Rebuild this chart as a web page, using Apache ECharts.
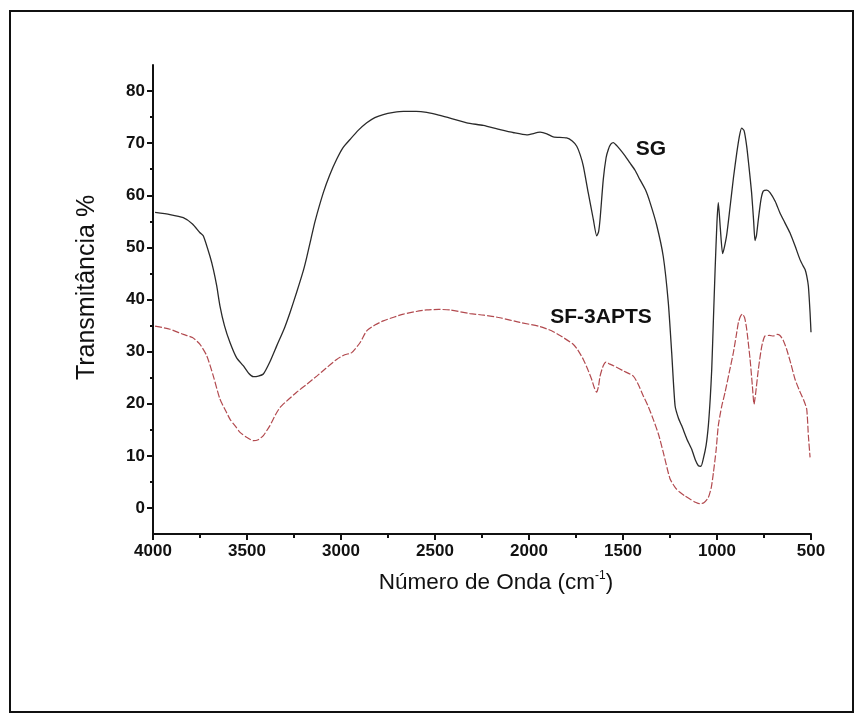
<!DOCTYPE html>
<html>
<head>
<meta charset="utf-8">
<script src="https://cdn.jsdelivr.net/npm/echarts@6/dist/echarts.min.js"></script>
<style>
  html, body { margin: 0; padding: 0; background: #fff; }
  #chart { width: 866px; height: 726px; }
</style>
</head>
<body>
<div id="chart"></div>
<script>
// wavenumber (cm-1) / transmittance (%)
const sgWave = [3989, 3910, 3839, 3790, 3750, 3732, 3697, 3679, 3661, 3644, 3620, 3590, 3555, 3520, 3490, 3466, 3440, 3413, 3380, 3342, 3300, 3271, 3235, 3200, 3183, 3160, 3138, 3094, 3060, 3023, 2990, 2952, 2910, 2863, 2820, 2775, 2720, 2668, 2600, 2544, 2480, 2420, 2331, 2243, 2154, 2080, 2012, 1941, 1905, 1871, 1800, 1770, 1746, 1728, 1711, 1685, 1658, 1640, 1630, 1622, 1605, 1590, 1578, 1565, 1551, 1535, 1516, 1490, 1463, 1436, 1410, 1380, 1356, 1321, 1286, 1259, 1241, 1223, 1205, 1188, 1160, 1135, 1115, 1099, 1085, 1073, 1058, 1046, 1036, 1028, 1019, 1010, 1000, 993, 982, 970, 950, 931, 912, 895, 880, 869, 856, 842, 830, 816, 805, 798, 790, 780, 766, 754, 735, 718, 690, 665, 640, 612, 585, 559, 540, 532, 523, 514, 505, 500];
const sgTrans = [56.7, 56.3, 55.7, 54.5, 52.8, 52.2, 48.3, 45.8, 42.6, 38.8, 35.0, 31.7, 28.8, 27.3, 25.8, 25.2, 25.3, 25.7, 27.9, 31.1, 34.6, 37.5, 41.5, 45.6, 48.0, 51.6, 55.0, 60.5, 63.9, 66.9, 69.1, 70.7, 72.4, 73.9, 74.9, 75.5, 75.9, 76.1, 76.1, 75.9, 75.4, 74.8, 73.9, 73.4, 72.6, 72.0, 71.6, 72.1, 71.8, 71.2, 71.0, 70.4, 69.4, 67.8, 65.6, 60.5, 55.4, 52.2, 53.0, 55.4, 63.0, 67.2, 68.8, 69.8, 70.1, 69.6, 68.8, 67.6, 66.2, 64.8, 63.0, 61.0, 58.6, 54.3, 48.3, 39.4, 29.8, 19.6, 17.2, 15.8, 13.2, 11.3, 9.2, 8.1, 8.0, 9.4, 12.0, 15.8, 21.0, 26.6, 36.2, 45.8, 55.0, 58.6, 53.5, 48.8, 52.0, 57.6, 63.5, 68.1, 71.5, 72.9, 72.4, 69.4, 65.5, 60.5, 55.0, 51.3, 52.3, 55.4, 59.2, 60.8, 61.0, 60.5, 58.8, 56.6, 54.8, 52.8, 50.3, 47.7, 46.3, 45.8, 44.6, 42.6, 37.5, 33.7];

const sfWave = [3989, 3910, 3839, 3790, 3750, 3714, 3679, 3644, 3610, 3590, 3560, 3537, 3500, 3466, 3440, 3413, 3378, 3350, 3324, 3280, 3236, 3180, 3129, 3080, 3023, 2980, 2943, 2899, 2863, 2820, 2775, 2720, 2668, 2600, 2544, 2480, 2420, 2314, 2240, 2154, 2048, 1941, 1880, 1835, 1765, 1740, 1711, 1690, 1667, 1652, 1640, 1630, 1622, 1605, 1590, 1570, 1551, 1498, 1445, 1420, 1392, 1365, 1339, 1310, 1286, 1250, 1220, 1197, 1170, 1144, 1115, 1091, 1070, 1046, 1030, 1019, 1005, 993, 975, 957, 935, 913, 898, 886, 875, 865, 853, 842, 824, 812, 803, 795, 780, 762, 745, 720, 700, 680, 665, 648, 630, 608, 585, 560, 541, 523, 514, 505];
const sfTrans = [34.9, 34.3, 33.3, 32.7, 31.4, 29.2, 25.3, 20.9, 18.4, 17.0, 15.6, 14.5, 13.5, 12.9, 13.1, 13.9, 15.8, 17.8, 19.3, 20.8, 22.2, 23.8, 25.3, 26.8, 28.5, 29.4, 29.8, 31.7, 34.0, 35.1, 35.9, 36.6, 37.2, 37.7, 38.0, 38.1, 38.0, 37.3, 37.0, 36.5, 35.6, 34.8, 34.0, 33.1, 31.4, 30.3, 28.5, 26.8, 24.7, 23.0, 22.2, 23.4, 25.3, 27.3, 28.0, 27.6, 27.3, 26.3, 25.3, 23.8, 21.5, 19.4, 17.0, 14.0, 10.7, 5.6, 3.8, 3.0, 2.3, 1.7, 1.1, 0.8, 1.0, 2.0, 4.0, 6.8, 11.0, 15.8, 19.5, 22.2, 26.0, 29.8, 33.0, 35.6, 36.8, 37.2, 36.5, 34.3, 28.5, 23.5, 19.9, 21.8, 26.6, 31.0, 33.0, 33.1, 33.0, 33.3, 33.1, 32.2, 30.5, 27.8, 24.7, 22.4, 20.9, 19.0, 13.9, 9.7];

const xTicks = [4000, 3500, 3000, 2500, 2000, 1500, 1000, 500];
const yTicks = [0, 10, 20, 30, 40, 50, 60, 70, 80];
const yMinorTicks = [5, 15, 25, 35, 45, 55, 65, 75];

const sgLabel = { name: 'SG', at: [1351, 68.8] };
const sfLabel = { name: 'SF-3APTS', at: [1617, 36.6] };

function pairs (xs, ys) {
  return xs.map((x, i) => [x, ys[i]])
}

const font = '"Liberation Sans", Arial, sans-serif';

const chart = echarts.init(document.getElementById('chart'));

const option = {
  backgroundColor: '#fff',
  animation: false,
  grid: {
    left: 153,
    right: 55,
    top: 65,
    bottom: 192,
    containLabel: false
  },
  graphic: [
    {
      type: 'rect',
      shape: { x: 10, y: 11, width: 843, height: 701 },
      style: { fill: 'none', stroke: '#111', lineWidth: 2 }
    }
  ],
  xAxis: {
    type: 'value',
    inverse: true,
    min: 500,
    max: 4000,
    interval: 500,
    name: '{t|Número de Onda (cm}{s|-1}{t|)}',
    nameLocation: 'middle',
    nameGap: 36,
    nameTextStyle: {
      padding: [0, 0, 0, 28],
      rich: {
        t: { fontFamily: font, fontSize: 22.5, color: '#111', verticalAlign: 'bottom' },
        s: { fontFamily: font, fontSize: 12, color: '#111', verticalAlign: 'top', padding: [0, 0, 12, 0] }
      }
    },
    axisLine: { show: true, onZero: false, lineStyle: { color: '#111', width: 2 } },
    axisTick: { show: true, length: 6, lineStyle: { color: '#111', width: 2 } },
    minorTick: { show: true, splitNumber: 2, length: 4, lineStyle: { color: '#111', width: 2 } },
    axisLabel: {
      margin: 9,
      fontFamily: font,
      fontWeight: 'bold',
      fontSize: 17,
      color: '#111',
      formatter: v => String(v)
    },
    splitLine: { show: false }
  },
  yAxis: [
    {
      type: 'value',
      min: -5,
      max: 85,
      name: 'Transmitância %',
      nameLocation: 'middle',
      nameGap: 53,
      nameRotate: 90,
      nameTextStyle: { fontFamily: font, fontSize: 25, color: '#111', padding: [0, 0, 0, 24] },
      axisLine: { show: true, onZero: false, lineStyle: { color: '#111', width: 2 } },
      axisTick: { show: true, length: 6, customValues: yTicks, lineStyle: { color: '#111', width: 2 } },
      axisLabel: {
        margin: 8,
        fontFamily: font,
        fontWeight: 'bold',
        fontSize: 17,
        color: '#111',
        customValues: yTicks
      },
      splitLine: { show: false }
    },
    {
      type: 'value',
      min: -5,
      max: 85,
      position: 'left',
      axisLine: { show: false },
      axisTick: { show: true, length: 3, customValues: yMinorTicks, lineStyle: { color: '#111', width: 2 } },
      axisLabel: { show: false },
      splitLine: { show: false }
    }
  ],
  series: [
    {
      name: 'SG',
      type: 'line',
      data: pairs(sgWave, sgTrans),
      showSymbol: false,
      smooth: 0.2,
      lineStyle: { color: '#2a2a2a', width: 1.3 },
      markPoint: {
        symbol: 'circle',
        symbolSize: 0,
        data: [{ coord: sgLabel.at, value: sgLabel.name }],
        label: {
          show: true,
          position: 'inside',
          formatter: sgLabel.name,
          fontFamily: font,
          fontWeight: 'bold',
          fontSize: 21,
          color: '#111'
        }
      }
    },
    {
      name: 'SF-3APTS',
      type: 'line',
      data: pairs(sfWave, sfTrans),
      showSymbol: false,
      smooth: 0.2,
      lineStyle: { color: '#b24a4f', width: 1.2, type: [7, 2] },
      markPoint: {
        symbol: 'circle',
        symbolSize: 0,
        data: [{ coord: sfLabel.at, value: sfLabel.name }],
        label: {
          show: true,
          position: 'inside',
          formatter: sfLabel.name,
          fontFamily: font,
          fontWeight: 'bold',
          fontSize: 21,
          color: '#111'
        }
      }
    }
  ]
};

chart.setOption(option);
</script>
</body>
</html>
